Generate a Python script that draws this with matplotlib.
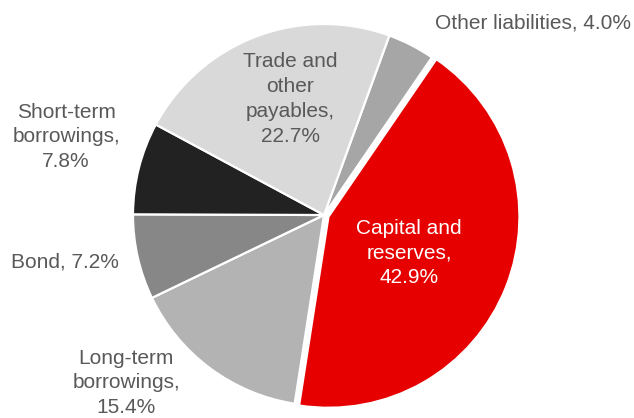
import matplotlib
matplotlib.use("Agg")
import matplotlib.pyplot as plt

plt.rcParams['font.family'] = ['Liberation Sans', 'DejaVu Sans']

# liabilities breakdown, clockwise from the top
names = ['Other liabilities', 'Capital and reserves', 'Long-term borrowings',
         'Bond', 'Short-term borrowings', 'Trade and other payables']
shares = [4.0, 42.9, 15.4, 7.2, 7.8, 22.7]
colors = ['#A6A6A6', '#E60000', '#B3B3B3', '#878787', '#222222', '#D9D9D9']
explode = [0, 0.025, 0, 0, 0, 0]

label_text = [
    'Other liabilities, {:.1f}%',
    'Capital and\nreserves,\n{:.1f}%',
    'Long-term\nborrowings,\n{:.1f}%',
    'Bond, {:.1f}%',
    'Short-term\nborrowings,\n{:.1f}%',
    'Trade and\nother\npayables,\n{:.1f}%',
]
# label centres in pixels (x, y from top)
label_pos = [(533, 23), (409, 253), (126, 383), (65, 262), (66, 137), (290, 99)]
label_color = ['#595959', 'white', '#595959', '#595959', '#595959', '#595959']

W, H = 634, 418
fig = plt.figure(figsize=(W / 100, H / 100), dpi=100)
ax = fig.add_axes([0, 0, 1, 1])

cx, cy, r = 324, 215, 191
ax.pie(shares, colors=colors, explode=explode, startangle=70, counterclock=False,
       radius=1, wedgeprops=dict(edgecolor='white', linewidth=1.6))
ax.set_aspect('auto')
ax.set_xlim(-cx / r, (W - cx) / r)
ax.set_ylim(-(H - cy) / r, cy / r)
ax.axis('off')

for txt, v, (px, py), c in zip(label_text, shares, label_pos, label_color):
    fig.text(px / W, 1 - py / H, txt.format(v), ha='center', va='center',
             fontsize=15, color=c, linespacing=1.38)

fig.savefig('out.png', dpi=100)
